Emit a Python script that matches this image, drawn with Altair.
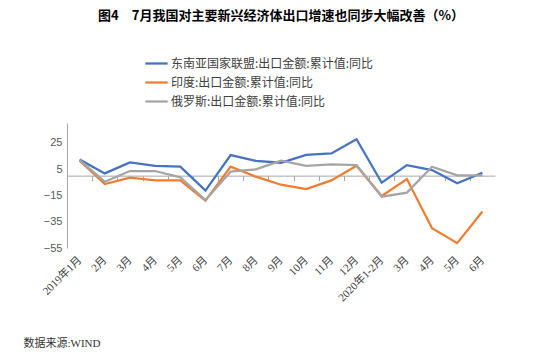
import altair as alt
import pandas as pd

categories = ["2019年1月", "2月", "3月", "4月", "5月", "6月", "7月", "8月", "9月", "10月",
              "11月", "12月", "2020年1-2月", "3月 ", "4月 ", "5月 ", "6月 "]
series_names = ["东南亚国家联盟:出口金额:累计值:同比", "印度:出口金额:累计值:同比", "俄罗斯:出口金额:累计值:同比"]
asean = [12.3, 1.7, 10.0, 7.5, 6.8, -11.4, 15.6, 11.3, 9.8, 15.8, 16.9, 27.7, -5.4, 8.0, 4.2, -5.8, 2.2]
india = [11.3, -6.4, -1.6, -3.6, -3.6, -19.0, 6.8, -0.8, -6.9, -10.2, -3.6, 7.5, -15.5, -2.6, -40.0, -51.3, -27.3]
russia = [11.8, -4.6, 3.5, 3.5, -1.3, -18.5, 3.0, 4.8, 11.3, 7.5, 8.5, 8.0, -16.0, -12.9, 6.8, 0.2, 0.2]
y_ticks = [-55, -35, -15, 5, 25]
colors = ["#4472C4", "#ED7D31", "#A5A5A5"]

rows = []
for name, vals in zip(series_names, [asean, india, russia]):
    for i, (c, v) in enumerate(zip(categories, vals)):
        rows.append({"cat": c, "series": name, "value": v, "order": i})
df = pd.DataFrame(rows)

W, H = 428, 125
y_min, y_max = -55, 40
zero_from_bottom = H * (0 - y_min) / (y_max - y_min)
step = W / len(categories)

cjk_serif = "Liberation Serif, Noto Sans CJK SC"

chart = alt.Chart(df).mark_line(strokeWidth=2.25).encode(
    x=alt.X("cat:N", sort=categories,
            scale=alt.Scale(type="point", padding=0.5),
            axis=alt.Axis(
                title="数据来源:WIND", titleFont=cjk_serif, titleFontSize=11,
                titleFontWeight="normal", titleColor="#333333",
                titleAlign="left", titleBaseline="middle",
                titleX=-44, titleY=168, titleAngle=0,
                offset=-zero_from_bottom, domainColor="#A6A6A6", domainWidth=1,
                tickColor="#A6A6A6", tickSize=5, tickOffset=-step / 2,
                labelOffset=step / 2, labelAngle=-45, labelAlign="right",
                labelBaseline="middle", labelPadding=zero_from_bottom + 5,
                labelFont=cjk_serif, labelFontSize=11, labelColor="#404040",
                labelOverlap=False, grid=False)),
    y=alt.Y("value:Q", scale=alt.Scale(domain=[y_min, y_max], nice=False, zero=False),
            axis=alt.Axis(title=None, values=y_ticks, grid=False, ticks=False,
                          domainColor="#A6A6A6", labelColor="#595959",
                          labelFont="Liberation Sans", labelFontSize=11,
                          labelPadding=5)),
    color=alt.Color("series:N", sort=series_names,
                    scale=alt.Scale(domain=series_names, range=colors),
                    legend=alt.Legend(title=None, orient="none", legendX=77, legendY=-72,
                                      symbolType="stroke", symbolSize=500,
                                      symbolStrokeWidth=2.25, rowPadding=-2,
                                      labelFont="Noto Sans CJK SC", labelFontSize=12,
                                      labelColor="#404040", labelOffset=2, labelLimit=400)),
    order="order:Q",
).properties(
    width=W, height=H,
    title=alt.TitleParams("图4\u30007月我国对主要新兴经济体出口增速也同步大幅改善（%）",
                          anchor="middle", font="Noto Sans CJK SC", fontSize=13,
                          fontWeight="bold", color="#000000", offset=28),
    autosize=alt.AutoSizeParams(type="none"),
    padding={"left": 67, "top": 123, "right": 550 - 67 - W, "bottom": 357 - 123 - H},
).configure_view(stroke=None)

chart.save("out.html", embed_options={"renderer": "svg", "actions": False})
